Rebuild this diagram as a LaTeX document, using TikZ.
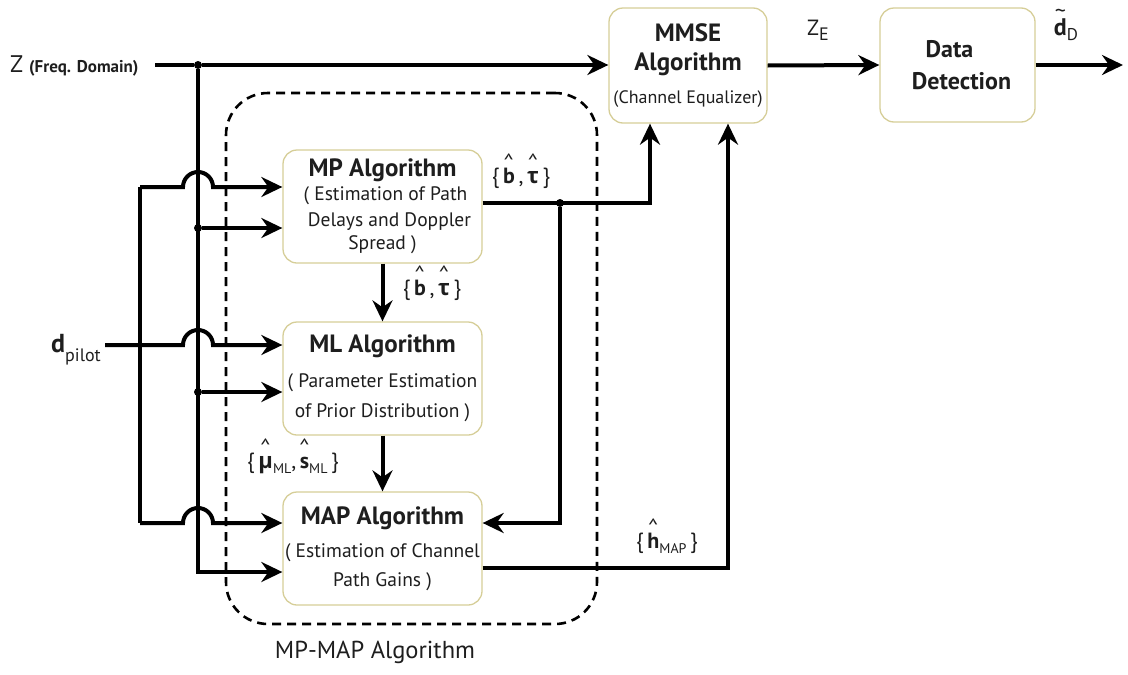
\documentclass[tikz,border=0pt]{standalone}
\usepackage{fontspec}
\setmainfont{PT Sans}
\newfontfamily\gk{Open Sans}
\usetikzlibrary{arrows.meta}
\definecolor{boxline}{HTML}{D6CE98}
\definecolor{txt}{HTML}{1E1E1E}
\newcommand\fs[1]{\fontsize{#1}{#1}\selectfont}
\newcommand\hatx[2][0.6em]{\setbox0\hbox{#2}\leavevmode\hbox to\wd0{\hss\raisebox{#1}[0pt][0pt]{\fs{22}\textasciicircum}\hss}\kern-\wd0\box0}
\newcommand\tildx[2][0.77em]{\setbox0\hbox{#2}\leavevmode\hbox to\wd0{\hss\raisebox{#1}[0pt][0pt]{\fs{22}\textasciitilde}\hss}\kern-\wd0\box0}
\newcommand\sub[2][14]{\raisebox{-5pt}{\fs{#1}#2}}
\begin{document}
\begin{tikzpicture}[x=1pt,y=-1pt,
  blk/.style={draw=boxline, line width=1.3pt, rounded corners=14pt, fill=white, inner sep=0pt, align=center, text=txt},
  wire/.style={line width=4pt, line join=miter},
  arr/.style={wire, -{Stealth[length=21pt,width=20pt,inset=7pt]}},
  dot/.style={circle, fill=black, inner sep=0pt, minimum size=8pt},
  lbl/.style={text=txt, inner sep=0pt, font=\fs{22}},
  grpbox/.style={draw, line width=2.6pt, dash pattern=on 9pt off 6pt, rounded corners=42pt, inner sep=0pt}]
\useasboundingbox (0,0) rectangle (1128,675);

% group frame
\node[grpbox, minimum width=371, minimum height=531] (grp) at (411.5,358.5) {};
\node[lbl, font=\fs{24.5}] (grplbl) at (375,652) {MP-MAP Algorithm};

% blocks
\node[blk, minimum width=158, minimum height=115, font=\fontsize{18}{24}\selectfont] (mmse) at (688,65.5)
  {{\fs{25}\bfseries MMSE}\\[5pt]{\fs{25}\bfseries Algorithm}\\[9pt](Channel Equalizer)};
\node[blk, minimum width=155, minimum height=114, font=\fontsize{24}{24}\selectfont\bfseries] (data) at (957.5,65)
  {\hspace*{-16pt}Data\\[8pt]\hspace*{8pt}Detection};
\node[blk, minimum width=199, minimum height=113, font=\fontsize{19.5}{24}\selectfont] (mp) at (382.5,206.5)
  {{\fs{25}\bfseries MP Algorithm}\\[0pt]\hspace*{6pt}( Estimation of Path\\[2pt]\hspace*{14pt}Delays and Doppler\\[-1pt]Spread )};
\node[blk, minimum width=199, minimum height=113, font=\fontsize{19.5}{24}\selectfont] (ml) at (382.5,378.5)
  {{\fs{25}\bfseries ML Algorithm}\\[11pt]( Parameter Estimation\\[6pt]of Prior Distribution )};
\node[blk, minimum width=199, minimum height=113, font=\fontsize{19.5}{24}\selectfont] (map) at (382.5,548.5)
  {{\fs{25}\bfseries MAP Algorithm}\\[9pt]( Estimation of Channel\\[5pt]Path Gains )};

% input labels
\node[lbl, anchor=west] (zlbl) at (10,66) {{\fs{24}Z} {\fs{17}\bfseries (Freq. Domain)}};
\node[lbl, anchor=west] (dpil) at (51,350) {\raisebox{4pt}{\fs{26}\bfseries d}\sub[18]{pilot}};
\node[lbl] (zelbl) at (818,30) {{\fs{22}Z}\sub[18]{E}};
\node[lbl] (ddlbl) at (1066,30) {\tildx{\fs{24}\bfseries d}\sub[17]{D}};

% signal labels
\node[lbl] (bt1) at (521,178) {\{\,\hatx{\textbf{b}}\,,\,\hatx{{\gk\bfseries τ}}\,\}};
\node[lbl] (bt2) at (432,290) {\{\,\hatx{\textbf{b}}\,,\,\hatx{{\gk\bfseries τ}}\,\}};
\node[lbl] (muml) at (293,463) {\{\,\hatx{{\gk\bfseries μ}}\sub{ML},\,\hatx{\textbf{s}}\sub{ML}\,\}};
\node[lbl] (hmap) at (667,543) {\{\,\hatx{\textbf{h}}\sub{MAP}\,\}};

% coordinates
\coordinate (zin) at (155,65);
\node[dot] (j0) at (198,65) {};
\node[dot] (j1) at (198,228) {};
\node[dot] (j2) at (198,392) {};
\coordinate (b3) at (198,572);
\coordinate (lt) at (140,187);
\coordinate (lb) at (140,523);
\coordinate (dp) at (105,345);
\node[dot] (j3) at (560,203) {};
\coordinate (c1) at (650,203);
\coordinate (c2) at (560,523);
\coordinate (c3) at (728,568);
\coordinate (out) at (1123,65);

% wires
\draw[wire] (zin) -- (j0);
\draw[arr] (j0) -- (mmse.west |- j0);
\draw[arr] (j0) -- (b3) -- (map.west |- b3);
\draw[arr] (j1) -- (mp.west |- j1);
\draw[arr] (j2) -- (ml.west |- j2);
\draw[wire] (lt) -- (lb);
\draw[arr] (lt) -- ++(43,0) arc[start angle=180, end angle=360, radius=15] -- (mp.west |- lt);
\draw[arr] (dp) -- ++(78,0) arc[start angle=180, end angle=360, radius=15] -- (ml.west |- dp);
\draw[arr] (lb) -- ++(43,0) arc[start angle=180, end angle=360, radius=15] -- (map.west |- lb);
\draw[arr] (mp.south) -- (ml.north);
\draw[arr] (ml.south) -- (map.north);
\draw[arr] (mp.east |- j3) -- (c1) -- (mmse.south -| c1);
\draw[arr] (j3) -- (c2) -- (map.east |- c2);
\draw[arr] (map.east |- c3) -- (c3) -- (mmse.south -| c3);
\draw[arr] (mmse.east) -- (data.west);
\draw[arr] (data.east) -- (out);
\end{tikzpicture}
\end{document}
